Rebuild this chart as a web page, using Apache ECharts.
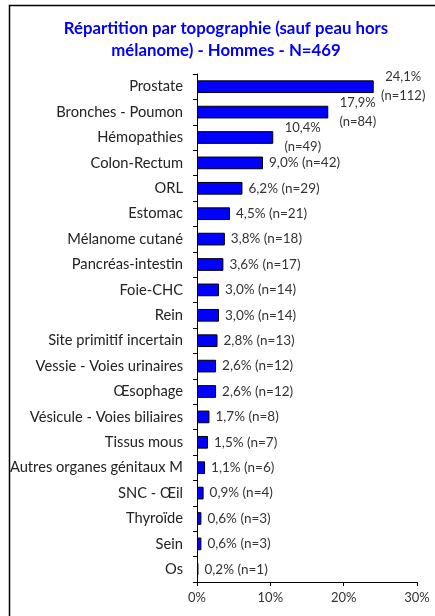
<!DOCTYPE html>
<html>
<head>
<meta charset="utf-8">
<script src="https://cdn.jsdelivr.net/npm/echarts@6/dist/echarts.min.js"></script>
<style>
  html, body { margin: 0; padding: 0; background: #fff; }
  #chart { width: 435px; height: 616px; }
</style>
</head>
<body>
<div id="chart"></div>
<script>
// données
const categories = ['Prostate', 'Bronches - Poumon', 'Hémopathies', 'Colon-Rectum', 'ORL', 'Estomac',
  'Mélanome cutané', 'Pancréas-intestin', 'Foie-CHC', 'Rein', 'Site primitif incertain',
  'Vessie - Voies urinaires', 'Œsophage', 'Vésicule - Voies biliaires', 'Tissus mous',
  'Autres organes génitaux M', 'SNC - Œil', 'Thyroïde', 'Sein', 'Os']
const percents = [24.1, 17.9, 10.4, 9.0, 6.2, 4.5, 3.8, 3.6, 3.0, 3.0, 2.8, 2.6, 2.6, 1.7, 1.5, 1.1, 0.9, 0.6, 0.6, 0.2]
const counts = [112, 84, 49, 42, 29, 21, 18, 17, 14, 14, 13, 12, 12, 8, 7, 6, 4, 3, 3, 1]
const ticks = [0, 10, 20, 30]

const fontName = 'Lato'
const chart = echarts.init(document.getElementById('chart'))

const fmt = v => v.toFixed(1).replace('.', ',') + '%'

const option = {
  backgroundColor: '#fff',
  animation: false,
  title: {
    text: 'Répartition par topographie (sauf peau hors\nmélanome) - Hommes - N=469',
    left: 226,
    top: 18,
    padding: 0,
    textAlign: 'center',
    textStyle: {
      color: '#0000ff',
      fontFamily: fontName,
      fontWeight: 'bold',
      fontSize: 16.8,
      lineHeight: 22
    }
  },
  graphic: [
    { type: 'polyline', shape: { points: [[9.5, 620], [9.5, 5.5], [440, 5.5]] }, style: { stroke: '#000', lineWidth: 1.5, fill: null } }
  ],
  grid: { left: 197, right: 18, top: 74, bottom: 34 },
  xAxis: {
    type: 'value',
    min: ticks[0],
    max: ticks[ticks.length - 1],
    interval: 10,
    axisLine: { show: true, lineStyle: { color: '#000', width: 1 } },
    axisTick: { show: true, length: 4, lineStyle: { color: '#000' } },
    splitLine: { show: false },
    axisLabel: {
      formatter: '{value}%',
      color: '#333',
      fontFamily: fontName,
      fontSize: 13,
      margin: 9
    }
  },
  yAxis: {
    type: 'category',
    data: categories,
    inverse: true,
    axisLine: { show: true, lineStyle: { color: '#000', width: 1 } },
    axisTick: { show: true, length: 4, lineStyle: { color: '#000' } },
    axisLabel: {
      color: '#222',
      fontFamily: fontName,
      fontSize: 14.7,
      margin: 14
    }
  },
  series: [{
    type: 'bar',
    data: percents,
    barCategoryGap: '50%',
    itemStyle: { color: '#0000ff', borderColor: '#000', borderWidth: 1 },
    label: {
      show: true,
      position: 'right',
      distance: 6,
      color: '#333',
      fontFamily: fontName,
      fontSize: 13.5,
      formatter: p => {
        const i = p.dataIndex
        if (i < 3) return '{c|' + fmt(percents[i]) + '}\n{c|(n=' + counts[i] + ')}'
        return fmt(percents[i]) + ' (n=' + counts[i] + ')'
      },
      rich: {
        c: { width: 47, align: 'center', fontFamily: fontName, fontSize: 13, color: '#333', lineHeight: 19 }
      }
    }
  }]
}

chart.setOption(option)
</script>
</body>
</html>
